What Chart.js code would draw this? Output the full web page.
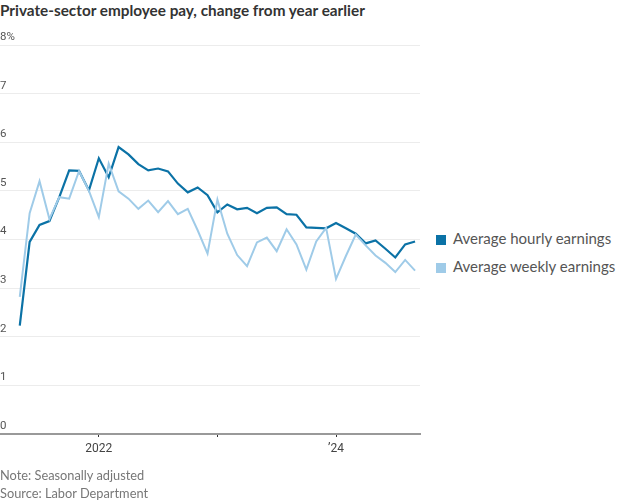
<!DOCTYPE html>
<html>
<head>
<meta charset="utf-8">
<script src="https://cdn.jsdelivr.net/npm/chart.js@4.4.1/dist/chart.umd.min.js"></script>
<style>
  body { margin: 0; background: #fff; font-family: Lato, "Noto Sans", sans-serif; }
  #wrap { position: relative; width: 620px; height: 500px; overflow: hidden; }
  #title { position: absolute; left: 0; top: 1px; font-size: 15.3px; font-weight: 700; color: #333; white-space: nowrap; }
  #box { position: absolute; left: 0; top: 0; width: 430px; height: 472px; }
  #legend { position: absolute; left: 436px; top: 228px; font-size: 15px; color: #555; }
  #legend div { height: 28px; line-height: 20px; white-space: nowrap; }
  #legend span { display: inline-block; width: 10px; height: 10px; margin-right: 7px; vertical-align: -1px; }
  #notes { position: absolute; left: 0; top: 466px; font-size: 12.8px; color: #777; line-height: 18px; }
</style>
</head>
<body>
<div id="wrap">
  <div id="title">Private-sector employee pay, change from year earlier</div>
  <div id="box"><canvas id="payChart"></canvas></div>
  <div id="legend"></div>
  <div id="notes">Note: Seasonally adjusted<br>Source: Labor Department</div>
</div>
<script>
// monthly, May 2021 .. Sep 2024
const months = [
  "2021-05", "2021-06", "2021-07", "2021-08", "2021-09", "2021-10", "2021-11", "2021-12",
  "2022-01", "2022-02", "2022-03", "2022-04", "2022-05", "2022-06", "2022-07", "2022-08",
  "2022-09", "2022-10", "2022-11", "2022-12", "2023-01", "2023-02", "2023-03", "2023-04",
  "2023-05", "2023-06", "2023-07", "2023-08", "2023-09", "2023-10", "2023-11", "2023-12",
  "2024-01", "2024-02", "2024-03", "2024-04", "2024-05", "2024-06", "2024-07", "2024-08",
  "2024-09"
];
const hourly = [
  2.23, 3.95, 4.30, 4.38, 4.87, 5.42, 5.41, 5.01,
  5.67, 5.28, 5.90, 5.75, 5.55, 5.42, 5.46, 5.40,
  5.15, 4.97, 5.07, 4.91, 4.56, 4.72, 4.62, 4.65,
  4.54, 4.65, 4.66, 4.52, 4.51, 4.25, 4.24, 4.23,
  4.34, 4.23, 4.12, 3.92, 3.98, 3.81, 3.63, 3.90,
  3.96
];
const weekly = [
  2.82, 4.54, 5.20, 4.42, 4.87, 4.84, 5.41, 5.00,
  4.46, 5.56, 4.99, 4.84, 4.63, 4.80, 4.56, 4.79,
  4.52, 4.63, 4.19, 3.71, 4.82, 4.12, 3.68, 3.45,
  3.94, 4.04, 3.76, 4.21, 3.90, 3.38, 3.96, 4.24,
  3.19, 3.66, 4.10, 3.88, 3.67, 3.52, 3.33, 3.58,
  3.36
];
const seriesNames = ["Average hourly earnings", "Average weekly earnings"];
const seriesColors = ["#0b72a6", "#9fcbe8"];
const yTicks = [0, 1, 2, 3, 4, 5, 6, 7, 8];
const xTickLabels = { "2022-01": "2022", "2023-01": "", "2024-01": "\u201924" };

function toPoints(values) {
  return values.map((v, i) => ({ x: i, y: v }));
}

function renderLegend() {
  const el = document.getElementById("legend");
  el.innerHTML = "";
  seriesNames.forEach((name, i) => {
    el.innerHTML += `<div><span style="background:${seriesColors[i]}"></span>${name}</div>`;
  });
}

function renderChart() {
  const ctx = document.getElementById("payChart").getContext("2d");
  const tickIdx = Object.keys(xTickLabels).map(m => months.indexOf(m));
  new Chart(ctx, {
    type: "line",
    data: {
      datasets: [
        { label: seriesNames[1], data: toPoints(weekly), borderColor: seriesColors[1], borderWidth: 2 },
        { label: seriesNames[0], data: toPoints(hourly), borderColor: seriesColors[0], borderWidth: 2.2 }
      ]
    },
    options: {
      responsive: true,
      maintainAspectRatio: false,
      animation: false,
      layout: { padding: { top: 45, left: 0, right: 10, bottom: 0 } },
      elements: { point: { radius: 0 }, line: { tension: 0 } },
      plugins: { legend: { display: false }, tooltip: { enabled: false } },
      scales: {
        x: {
          type: "linear",
          min: -2,
          max: 40.5,
          afterBuildTicks: s => { s.ticks = tickIdx.map(v => ({ value: v })); },
          afterFit: s => { s.height = 38; },
          ticks: {
            autoSkip: false,
            maxRotation: 0,
            color: "#444",
            font: { family: "Roboto", size: 12 },
            padding: 5,
            callback: v => xTickLabels[months[v]]
          },
          grid: { drawOnChartArea: false, drawTicks: true, tickLength: 3, color: "#333" },
          border: { color: "#999", width: 2 }
        },
        y: {
          min: 0,
          max: 8,
          afterBuildTicks: s => { s.ticks = yTicks.map(v => ({ value: v })); },
          afterFit: s => { s.width = 0; },
          ticks: {
            mirror: true,
            padding: 0,
            labelOffset: -8,
            color: "#555",
            font: { family: "Roboto", size: 11.5 },
            callback: v => v === 8 ? "8%" : String(v)
          },
          grid: { color: "#ececec", lineWidth: 1, drawTicks: false },
          border: { display: false }
        }
      }
    }
  });
}

document.addEventListener("DOMContentLoaded", () => {
  renderLegend();
  renderChart();
});
</script>
</body>
</html>
